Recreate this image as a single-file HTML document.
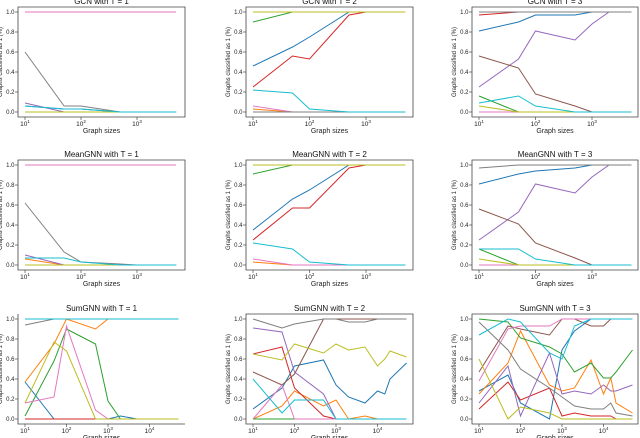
<!DOCTYPE html>
<html><head><meta charset="utf-8"><style>
html,body{margin:0;padding:0;background:#fff;width:640px;height:438px;overflow:hidden}
svg{font-family:"Liberation Sans",sans-serif}
</style></head><body>
<svg id="fig" width="640" height="438" viewBox="0 0 640 438" xmlns="http://www.w3.org/2000/svg"></svg>
<script>
const colorNames = ["blue","orange","green","red","purple","brown","pink","gray","olive","cyan"];
const colorHex = {blue:"#1f77b4",orange:"#ff7f0e",green:"#2ca02c",red:"#d62728",purple:"#9467bd",brown:"#8c564b",pink:"#e377c2",gray:"#7f7f7f",olive:"#bcbd22",cyan:"#17becf"};
const yTicks = [0,0.2,0.4,0.6,0.8,1.0];
const yTickLabels = ["0.0","0.2","0.4","0.6","0.8","1.0"];

const xsA = [10,50,100,500,1000,5000];
const xsB = [10,50,100,500,1000,2000,5000];
const xsC = [10,50,100,500,1000,2000,5000,10000,50000];
const xsD = [10,50,100,500,1000,2000,5000,10000,15000,20000,50000];

const gcn1 = {pink:[1,1,1,1,1,1],gray:[0.6,0.06,0.06,0,0,0],purple:[0.09,0,0,0,0,0],blue:[0.06,0.03,0.03,0,0,0],olive:[0,0,0,0,0,0],cyan:[0.06,0.03,0.03,0,0,0]};
const gcn2 = {olive:[1,1,1,1,1,1],green:[0.9,1,1,1,1,1],blue:[0.46,0.65,0.75,1,1,1],red:[0.25,0.56,0.53,0.97,1,1],cyan:[0.22,0.19,0.03,0,0,0],pink:[0.06,0,0,0,0,0],orange:[0.03,0,0,0,0,0],gray:[0,0,0,0,0,0]};
const gcn3 = {gray:[1,1,1,1,1,1,1],red:[0.97,1,1,1,1,1,1],blue:[0.81,0.9,0.97,0.97,1,1,1],purple:[0.25,0.53,0.81,0.72,0.88,1,1],brown:[0.56,0.44,0.18,0.06,0,0,0],cyan:[0.09,0.16,0.06,0,0,0,0],green:[0.16,0,0,0,0,0,0],olive:[0.06,0,0,0,0,0,0],pink:[0,0,0,0,0,0,0]};
const mean1 = {pink:[1,1,1,1,1,1],gray:[0.62,0.13,0.03,0.01,0,0],purple:[0.1,0,0,0,0,0],orange:[0.06,0,0,0,0,0],olive:[0,0,0,0,0,0],cyan:[0.07,0.07,0.03,0,0,0]};
const mean2 = {olive:[1,1,1,1,1,1],green:[0.91,1,1,1,1,1],blue:[0.35,0.66,0.75,1,1,1],red:[0.25,0.57,0.57,0.97,1,1],cyan:[0.22,0.16,0.03,0,0,0],pink:[0.06,0,0,0,0,0],orange:[0.03,0,0,0,0,0]};
const mean3 = {gray:[0.97,1,1,1,1,1,1],blue:[0.81,0.91,0.94,0.97,1,1,1],purple:[0.25,0.53,0.81,0.72,0.88,1,1],brown:[0.56,0.41,0.22,0.07,0,0,0],cyan:[0.16,0.16,0.06,0,0,0,0],green:[0.16,0,0,0,0,0,0],olive:[0.06,0,0,0,0,0,0],pink:[0,0,0,0,0,0,0]};
const sum1 = {blue:[0.37,0,0,0,0,0.03,0,0,0],orange:[0.37,0.75,1,0.9,1,1,1,1,1],green:[0.03,0.58,0.9,0.75,0.18,0,0,0,0],red:[0,0,0,0,0,0,0,0,0],pink:[0.16,0.22,0.93,0.09,0,0,0,0,0],gray:[0.94,1,1,1,1,1,1,1,1],olive:[0.16,0.77,0.68,0,0,0,0,0,0],cyan:[1,1,1,1,1,1,1,1,1]};
const sum2 = {blue:[0.1,0.31,0.53,0.59,0.34,0.22,0.16,0.28,0.25,0.4,0.56],orange:[0,0.13,0.28,0.13,0.19,0,0.03,0,0,0,0],green:[0,0,0,0,0,0,0,0,0,0,0],red:[0.65,0.72,0.31,0.03,0,0,0,0,0,0,0],purple:[0.91,0.87,0.47,0.25,0,0,0,0,0,0,0],brown:[0.47,0.34,0.45,1,1,1,1,1,1,1,1],pink:[0,0.34,0,0,0,0,0,0,0,0,0],gray:[1,0.91,0.95,1,1,0.97,0.97,1,1,1,1],olive:[0.65,0.59,0.75,0.66,0.75,0.69,0.72,0.53,0.6,0.68,0.62],cyan:[0.4,0.06,0.19,0.19,0,0,0,0,0,0,0]};
const sum3 = {blue:[0.28,0.44,0.16,0,0.69,0.88,1,1,1,1,1],orange:[0.25,0.56,0.88,0.34,0.28,0.31,0.59,0.25,0.41,0.16,0.06],green:[1,0.97,0.81,0.72,0.65,0.47,0.56,0.41,0.41,0.47,0.69],red:[0.1,0.37,0.19,0.31,0.03,0.06,0.03,0.03,0.03,0,0],purple:[0.16,0.53,0.03,0.66,0.25,0.28,0.25,0.34,0.28,0.28,0.34],brown:[0.47,0.93,0.9,0.84,1,1,0.93,0.93,1,1,1],pink:[0.38,0.9,0.93,0.93,1,1,1,1,1,1,1],gray:[0.97,0.69,0.5,0.31,0.22,0.13,0.1,0.1,0.16,0.06,0.03],olive:[0.6,0,0.12,0.06,0,0,0,0,0,0,0],cyan:[0.84,1,0.97,0.66,0.6,0.93,1,1,1,1,1]};

const panels = [
 {name:"gcn-t1",title:"GCN with T = 1",row:0,col:0,xs:xsA,data:gcn1},
 {name:"gcn-t2",title:"GCN with T = 2",row:0,col:1,xs:xsA,data:gcn2},
 {name:"gcn-t3",title:"GCN with T = 3",row:0,col:2,xs:xsB,data:gcn3},
 {name:"meangnn-t1",title:"MeanGNN with T = 1",row:1,col:0,xs:xsA,data:mean1},
 {name:"meangnn-t2",title:"MeanGNN with T = 2",row:1,col:1,xs:xsA,data:mean2},
 {name:"meangnn-t3",title:"MeanGNN with T = 3",row:1,col:2,xs:xsB,data:mean3},
 {name:"sumgnn-t1",title:"SumGNN with T = 1",row:2,col:0,xs:xsC,data:sum1},
 {name:"sumgnn-t2",title:"SumGNN with T = 2",row:2,col:1,xs:xsD,data:sum2},
 {name:"sumgnn-t3",title:"SumGNN with T = 3",row:2,col:2,xs:xsD,data:sum3}
];

const colLeft=[18,246,472], colRight=[185,413,638], rowTop=[7,160,314];
const NS="http://www.w3.org/2000/svg";
const svg=document.getElementById("fig");
function mk(tag,attrs,parent){const e=document.createElementNS(NS,tag);for(const k in attrs)e.setAttribute(k,attrs[k]);(parent||svg).appendChild(e);return e;}

panels.forEach(p=>{
  const g=mk("g",{});
  
  
  const L=colLeft[p.col], R=colRight[p.col], T=rowTop[p.row], B=T+110;
  const dec = p.row<2 ? (p.col===0?56:56.5) : 41.5;
  const nDec = p.row<2 ? 3 : 4;
  const xScale=v=>L+7+(Math.log10(v)-1)*dec;
  const yScale=v=>B-5-v*100;
  colorNames.forEach(c=>{
    const vals=p.data[c]; if(!vals) return;
    const pts=vals.map((v,i)=>xScale(p.xs[i]).toFixed(1)+","+yScale(v).toFixed(1)).join(" ");
    const pl=mk("polyline",{points:pts,fill:"none",stroke:colorHex[c],"stroke-width":1},g);
    
    
  });
  const fr=mk("path",{d: p.row===2&&p.col===0 ? `M${L},${T}V${B}H${R}` : `M${L},${T}V${B}H${R}V${T}Z`,fill:"none",stroke:"#444","stroke-width":0.8},g);
  
  
  yTicks.forEach((v,i)=>{
    const y=yScale(v);
    mk("line",{x1:L-3,x2:L,y1:y,y2:y,stroke:"#333","stroke-width":0.6},g);
    const t=mk("text",{x:L-3.5,y:y+2.1,"font-size":6,"text-anchor":"end",fill:"#222"},g);
    t.textContent=yTickLabels[i];
    
    
  });
  for(let d=1; d<=nDec; d++){
    const x=xScale(Math.pow(10,d));
    mk("line",{x1:x,x2:x,y1:B,y2:B+3,stroke:"#333","stroke-width":0.6},g);
    const t=mk("text",{x:x,y:B+9,"font-size":6.5,"text-anchor":"middle",fill:"#222"},g);
    
    
    const a=mk("tspan",{},t); a.textContent="10";
    const s=mk("tspan",{"font-size":4.5,dy:-3},t); s.textContent=String(d);
  }
  const xt=mk("text",{x:(L+R)/2,y:B+16,"font-size":7,"text-anchor":"middle",fill:"#222"},g);
  xt.textContent="Graph sizes";
  
  
  const yt=mk("text",{transform:`translate(${L-16},${(T+B)/2}) rotate(-90)`,"font-size":6,"text-anchor":"middle",fill:"#222"},g);
  yt.textContent="Graphs classified as 1 (%)";
  
  
  const tt=mk("text",{x:(L+R)/2,y:T-3,"font-size":8,"text-anchor":"middle",fill:"#111"},g);
  tt.textContent=p.title;
  
  
});
</script>
</body></html>
